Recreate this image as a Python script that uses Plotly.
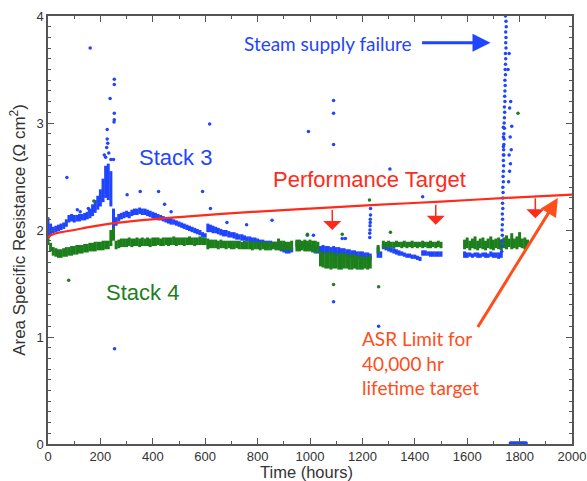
import plotly.graph_objects as go

# ---------------- data ----------------
# Stack 3 (blue) dense band: sample times and lower/upper edges
s3_t = (list(range(0, 610, 10)) + list(range(610, 940, 10)) + list(range(950, 1240, 10))
        + [1260, 1270] + list(range(1280, 1510, 10)) + list(range(1590, 1740, 10)))
s3_lo = [1.93,1.95,1.97,1.98,1.99,2.00,2.01,2.03,2.07,2.08, 2.07,2.08,2.08,2.09,2.09,2.10,2.11,2.13,2.16,2.19,
         2.22,2.26,2.30,2.28,2.22,1.96,2.04,2.08,2.10,2.11, 2.12,2.11,2.13,2.14,2.14,2.15,2.14,2.14,2.13,2.12,
         2.11,2.10,2.09,2.09,2.08,2.07,2.06,2.05,2.05,2.04, 2.03,2.02,2.01,2.00,1.99,1.98,1.97,1.96,1.95,1.93,
         1.93,
         1.98,1.98,1.97,1.97,1.96,1.95,1.94,1.94,1.93,1.93, 1.92,1.91,1.91,1.90,1.90,1.89,1.89,1.88,1.88,1.87,
         1.86,1.86,1.85,1.85,1.84,1.84,1.83,1.82,1.80,1.79, 1.78,1.78,1.79,
         1.84,1.84,1.83,1.83,1.82,1.81,1.80,1.78,1.78,1.78, 1.78,1.77,1.77,1.77,1.77,1.76,1.76,1.76,1.75,1.75,
         1.74,1.74,1.74,1.73,1.73,1.72,1.72,1.72,1.72,
         1.74,1.74,
         1.82,1.81,1.80,1.79,1.78,1.77,1.76,1.76,1.75,1.74, 1.74,1.73,1.73,1.72,1.71,1.76,1.76,1.76,1.75,1.75,
         1.75,1.75,1.75,
         1.74,1.74,1.75,1.74,1.75,1.74,1.74,1.75,1.74,1.74, 1.75,1.74,1.74,1.73,1.74]
s3_hi = [2.12,2.06,2.03,2.04,2.05,2.06,2.07,2.10,2.14,2.15, 2.14,2.14,2.15,2.15,2.16,2.17,2.20,2.24,2.28,2.32,
         2.38,2.48,2.60,2.62,2.55,2.20,2.12,2.15,2.16,2.17, 2.18,2.17,2.19,2.20,2.20,2.21,2.20,2.20,2.19,2.18,
         2.17,2.16,2.15,2.14,2.13,2.12,2.12,2.11,2.10,2.09, 2.08,2.07,2.06,2.05,2.04,2.03,2.02,2.01,2.00,1.98,
         1.97,
         2.06,2.05,2.04,2.03,2.02,2.01,2.00,2.00,1.99,1.98, 1.98,1.97,1.96,1.96,1.95,1.94,1.94,1.93,1.93,1.92,
         1.91,1.91,1.90,1.90,1.90,1.89,1.89,1.88,1.87,1.86, 1.85,1.84,1.84,
         1.90,1.89,1.89,1.88,1.88,1.87,1.86,1.84,1.84,1.85, 1.86,1.85,1.85,1.84,1.85,1.84,1.84,1.83,1.83,1.82,
         1.82,1.81,1.81,1.80,1.80,1.80,1.79,1.79,1.78,
         1.84,1.80,
         1.87,1.86,1.85,1.84,1.83,1.82,1.81,1.80,1.79,1.78, 1.78,1.77,1.77,1.76,1.75,1.81,1.81,1.80,1.80,1.80,
         1.80,1.80,1.80,
         1.80,1.79,1.79,1.78,1.79,1.79,1.78,1.79,1.79,1.78, 1.80,1.79,1.79,1.79,1.80]

# Stack 4 (green) dense band
s4_t = (list(range(0, 240, 10)) + list(range(240, 610, 10)) + list(range(610, 940, 10))
        + list(range(950, 1040, 10)) + list(range(1040, 1240, 10)) + [1260]
        + list(range(1280, 1510, 10)) + list(range(1590, 1840, 10)))
s4_lo = [1.86,1.80,1.76,1.75,1.74,1.74,1.75,1.75,1.76,1.76, 1.77,1.77,1.78,1.78,1.79,1.79,1.80,1.80,1.80,1.81,
         1.81,1.81,1.82,1.82,
         1.85,1.90,1.82,1.83,1.84,1.84,1.84,1.85,1.84,1.85, 1.85,1.84,1.85,1.85,1.85,1.84,1.85,1.85,1.86,1.85,
         1.85,1.86,1.85,1.86,1.86,1.85,1.86,1.86,1.85,1.86, 1.86,1.86,1.85,1.86,1.86,1.86,1.86,
         1.82,1.83,1.83,1.83,1.82,1.83,1.83,1.82,1.83,1.82, 1.82,1.83,1.82,1.82,1.82,1.82,1.82,1.81,1.82,1.82,
         1.81,1.82,1.81,1.81,1.81,1.82,1.81,1.81,1.81,1.81, 1.81,1.81,1.81,
         1.80,1.80,1.81,1.80,1.80,1.80,1.79,1.79,1.79,
         1.66,1.65,1.64,1.64,1.63,1.64,1.64,1.63,1.63,1.64, 1.64,1.63,1.63,1.64,1.63,1.63,1.63,1.64,1.63,1.64,
         1.78,
         1.83,1.84,1.83,1.84,1.83,1.84,1.84,1.83,1.84,1.83, 1.84,1.83,1.84,1.83,1.84,1.83,1.84,1.83,1.83,1.84,
         1.83,1.84,1.83,
         1.82,1.83,1.81,1.83,1.82,1.81,1.83,1.82,1.81,1.83, 1.82,1.81,1.83,1.82,1.81,1.83,1.82,1.84,1.82,1.83,
         1.82,1.84,1.83,1.82,1.84]
s4_hi = [1.95,1.88,1.84,1.83,1.82,1.82,1.83,1.84,1.84,1.85, 1.85,1.86,1.86,1.86,1.87,1.87,1.88,1.88,1.89,1.89,
         1.89,1.90,1.90,1.90,
         2.00,2.02,1.90,1.91,1.92,1.92,1.92,1.93,1.92,1.92, 1.93,1.92,1.93,1.92,1.93,1.92,1.93,1.93,1.93,1.92,
         1.93,1.93,1.93,1.93,1.94,1.93,1.93,1.93,1.93,1.93, 1.94,1.93,1.93,1.93,1.94,1.93,1.93,
         1.92,1.91,1.91,1.91,1.90,1.91,1.90,1.90,1.90,1.90, 1.90,1.90,1.90,1.89,1.90,1.89,1.90,1.89,1.89,1.89,
         1.89,1.89,1.89,1.89,1.88,1.89,1.89,1.92,1.90,1.90, 1.89,1.89,1.90,
         1.91,1.91,1.90,1.91,1.90,1.91,1.90,1.90,1.89,
         1.80,1.79,1.79,1.80,1.79,1.79,1.78,1.78,1.79,1.78, 1.78,1.77,1.77,1.77,1.76,1.76,1.75,1.75,1.75,1.76,
         1.86,
         1.90,1.89,1.90,1.89,1.89,1.90,1.89,1.89,1.90,1.89, 1.89,1.90,1.89,1.89,1.89,1.90,1.89,1.89,1.90,1.89,
         1.89,1.90,1.89,
         1.91,1.93,1.90,1.92,1.94,1.90,1.92,1.93,1.90,1.92, 1.94,1.91,1.92,1.93,1.91,1.93,1.95,1.92,1.97,1.92,
         1.94,1.98,1.92,1.93,1.91]

# Stack 3 isolated points
s3_pts_t = [72,161,112,158,123,154,226,226,228,224,237,253,253,253,253,252,250,254,215,220,232,240,
            302,352,422,445,470,590,617,620,683,758,855,994,1090,1090,1090,1090,1262,1305,1430,
            990,1013,1123,1135,1228,1228,1229,1229,1230,1230,1231,1231,
            1765,1770,1775,1780,1785,1790,1795,1800,1805,1810,1815,1820,1825]
s3_pts_v = [2.49,3.70,2.19,2.18,2.17,2.20,2.94,2.85,2.81,2.77,3.23,3.41,3.36,3.09,3.03,3.01,2.66,0.89,2.70,2.68,2.72,2.66,
            2.33,2.36,2.36,2.24,2.17,2.36,2.99,2.20,2.07,2.05,2.09,2.92,3.21,3.09,2.80,1.33,1.10,2.57,2.31,
            1.95,1.95,1.92,1.92,1.93,1.97,2.00,2.04,2.07,2.10,2.14,2.20,
            0.01,0.01,0.01,0.01,0.01,0.01,0.01,0.01,0.01,0.01,0.01,0.01,0.01]

# Stack 3 steam-supply-failure excursion
spike_t = [1732,1733,1732,1734,1733,1734,1735,1734,1736,1735,1736,1737,1736,1738,1737,1738,1739,1738,1740,1739,
           1740,1741,1740,1742,1741,1742,1743,1742,1744,1743,1744,1745,1744,1746,1745,1746,1747,1746,1748,1747,
           1748,1747,1749,1748,1746,
           1738,1738,1738,1738,1758,1762,1765,1760,1768,1764,1770,1762,1766,1756,1760]
spike_v = [1.80,1.85,1.90,1.95,2.00,2.05,2.10,2.15,2.20,2.25,2.30,2.35,2.40,2.45,2.50,2.55,2.60,2.65,2.70,2.75,
           2.80,2.85,2.90,2.95,3.00,3.05,3.10,3.15,3.20,3.25,3.30,3.35,3.40,3.45,3.50,3.55,3.60,3.65,3.70,3.75,
           3.80,3.85,3.90,3.95,4.00,
           2.96,2.87,2.78,2.70,2.45,2.55,2.62,2.70,2.75,2.87,2.97,3.14,3.20,3.50,3.65]

# Stack 4 isolated points
s4_pts_t = [79,175,990,1123,1227,1090,1262,1307,1794]
s4_pts_v = [1.53,2.27,1.96,1.96,2.28,1.49,1.47,1.98,3.09]

# Performance target curve
target_t = [0,10,25,50,100,150,225,350,500,750,1000,1250,1500,1750,2000]
target_v = [1.925,1.95,1.965,1.98,2.0,2.025,2.055,2.09,2.12,2.165,2.2,2.235,2.265,2.3,2.33]

# red down-arrows below the target
down_t = [1085,1480,1860]
down_top = [2.20,2.25,2.31]
down_tip = [2.00,2.05,2.11]

x_ticks = [0,200,400,600,800,1000,1200,1400,1600,1800,2000]
y_ticks = [0,1,2,3,4]

BLUE = "#1f45ff"
GREEN = "#1c7f1c"
RED = "#ff2a1a"
ORANGE = "#ff4d1c"

fig = go.Figure()

def band(t, lo, hi, color):
    mid = [(a + b) / 2 for a, b in zip(lo, hi)]
    half = [(b - a) / 2 for a, b in zip(lo, hi)]
    return go.Scatter(x=t, y=mid, mode="markers",
                      marker=dict(size=2, color=color),
                      error_y=dict(type="data", array=half, symmetric=True,
                                   color=color, thickness=3, width=0),
                      hoverinfo="skip")

fig.add_trace(band(s3_t, s3_lo, s3_hi, BLUE))
fig.add_trace(band(s4_t, s4_lo, s4_hi, GREEN))
fig.add_trace(go.Scatter(x=s3_pts_t, y=s3_pts_v, mode="markers", marker=dict(size=3.5, color=BLUE)))
fig.add_trace(go.Scatter(x=s4_pts_t, y=s4_pts_v, mode="markers", marker=dict(size=3.5, color=GREEN)))
fig.add_trace(go.Scatter(x=spike_t, y=spike_v, mode="markers", marker=dict(size=3.5, color=BLUE)))
fig.add_trace(go.Scatter(x=target_t, y=target_v, mode="lines", line=dict(color=RED, width=2.2, shape="spline")))

ann = []
for t, a, b in zip(down_t, down_top, down_tip):
    ann.append(dict(x=t, y=b, ax=t, ay=a, xref="x", yref="y", axref="x", ayref="y",
                    showarrow=True, arrowhead=1, arrowsize=2.0, arrowwidth=1.5, arrowcolor=RED, text=""))
ann.append(dict(x=1689, y=3.75, ax=1422, ay=3.75, xref="x", yref="y", axref="x", ayref="y",
                showarrow=True, arrowhead=2, arrowsize=1.2, arrowwidth=3, arrowcolor=BLUE, text=""))
ann.append(dict(x=1946, y=2.3, ax=1637, ay=1.08, xref="x", yref="y", axref="x", ayref="y",
                showarrow=True, arrowhead=2, arrowsize=1.2, arrowwidth=3, arrowcolor=ORANGE, text=""))
ann.append(dict(x=1067, y=3.745, text="Steam supply failure", showarrow=False,
                font=dict(family="Lato, Open Sans, sans-serif", size=19, color=BLUE)))
ann.append(dict(x=488, y=2.68, text="Stack 3", showarrow=False,
                font=dict(family="Liberation Sans, Arial, sans-serif", size=22, color=BLUE)))
ann.append(dict(x=360, y=1.42, text="Stack 4", showarrow=False,
                font=dict(family="Liberation Sans, Arial, sans-serif", size=22, color=GREEN)))
ann.append(dict(x=1226, y=2.47, text="Performance Target", showarrow=False,
                font=dict(family="Liberation Sans, Arial, sans-serif", size=22, color=RED)))
ann.append(dict(x=1192, y=0.757, xanchor="left", align="left",
                text="ASR Limit for<br>40,000 hr<br>lifetime target", showarrow=False,
                font=dict(family="Lato, Open Sans, sans-serif", size=19, color=ORANGE)))
# x-axis title, placed just below the tick labels
ann.append(dict(x=0.494, y=-0.0665, xref="paper", yref="paper", text="Time (hours)", showarrow=False,
                yanchor="middle",
                font=dict(family="Liberation Sans, Arial, sans-serif", size=16.5, color="#333333")))

axis_common = dict(showline=True, linecolor="#555555", linewidth=1.5, mirror="ticks",
                   ticks="inside", ticklen=6, tickcolor="#555555", tickwidth=1,
                   showgrid=False, zeroline=False, automargin=False,
                   tickfont=dict(family="Liberation Sans, Arial, sans-serif", size=13, color="#333333"))

fig.update_layout(
    width=587, height=481,
    margin=dict(l=48, r=15, t=16, b=37),
    paper_bgcolor="white", plot_bgcolor="white",
    showlegend=False,
    annotations=ann,
    xaxis=dict(range=[0, 2000], tickvals=x_ticks, ticktext=[str(v) for v in x_ticks],
               minor=dict(dtick=100, tick0=0, ticks="inside", ticklen=3, tickcolor="#555555"),
               **axis_common),
    yaxis=dict(range=[0, 4], tickvals=y_ticks, ticktext=[str(v) for v in y_ticks],
               minor=dict(dtick=0.1, tick0=0, ticks="inside", ticklen=3, tickcolor="#555555"),
               title=dict(text="Area Specific Resistance (Ω cm<sup>2</sup>)", standoff=6,
                          font=dict(family="Liberation Sans, Arial, sans-serif", size=17, color="#333333")),
               **axis_common),
)

fig.write_html("out.html")
